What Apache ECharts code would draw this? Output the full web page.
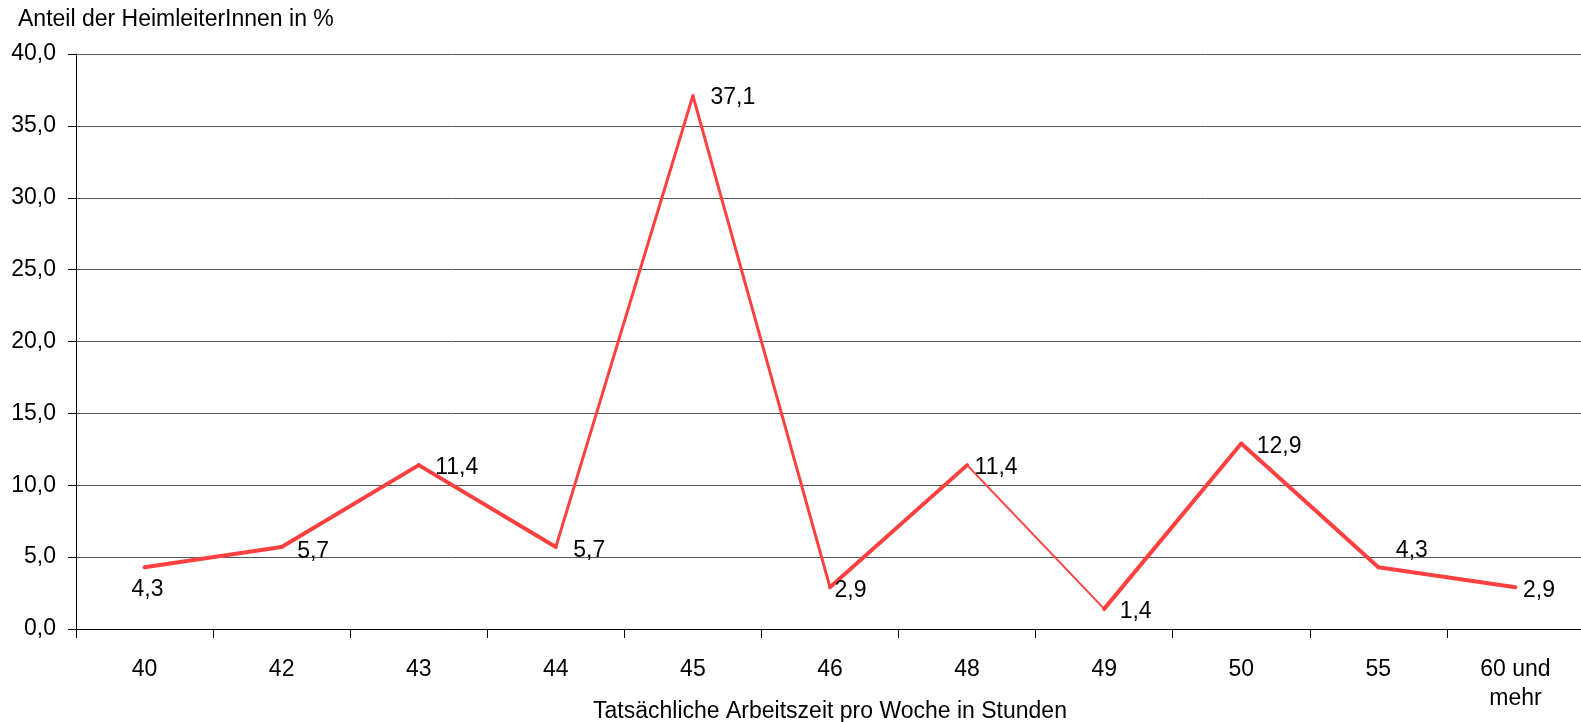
<!DOCTYPE html>
<html>
<head>
<meta charset="utf-8">
<script src="https://cdn.jsdelivr.net/npm/echarts@6/dist/echarts.min.js"></script>
<style>html,body{margin:0;padding:0;background:#fff}#c{width:1581px;height:722px}</style>
</head>
<body>
<div id="c"></div>
<script>
const categories = ['40', '42', '43', '44', '45', '46', '48', '49', '50', '55', '60 und\nmehr'];
const values = [4.3, 5.7, 11.4, 5.7, 37.1, 2.9, 11.4, 1.4, 12.9, 4.3, 2.9];
const yTicks = { min: 0, max: 40, interval: 5 };
const yTitle = 'Anteil der HeimleiterInnen in %';
const xTitle = 'Tatsächliche Arbeitszeit pro Woche in Stunden';

const FONT = '"Liberation Sans", Arial, sans-serif';
const FS = 23;
const RED = '#FF4040';
const fmt = v => v.toFixed(1).replace('.', ',');

// styling: per-segment stroke widths (as rendered in the original), per-label placement
const segWidths = [4, 4, 4, 3, 3, 4, 2, 4, 4, 4];
const labelPlace = [
  ['bottom', [3, 5]], ['right', [10, 5]], ['right', [11, 3]], ['right', [12, 4]],
  ['right', [12, 2]], ['right', [-1, 3]], ['right', [2, 3]], ['right', [10, 3]],
  ['right', [10, 3]], ['right', [12, -17]], ['right', [2, 3]]
];

const segSeries = [];
for (let i = 0; i < values.length - 1; i++) {
  segSeries.push({
    type: 'line',
    data: values.map((v, j) => (j === i || j === i + 1) ? v : null),
    symbol: 'none',
    connectNulls: false,
    lineStyle: { color: RED, width: segWidths[i], cap: 'round', join: 'round' },
    itemStyle: { color: RED },
    silent: true,
    z: 2
  });
}

const labelData = values.map((v, i) => ({
  value: v,
  label: { position: labelPlace[i][0] }
}));

const chart = echarts.init(document.getElementById('c'), null, { renderer: 'canvas' });
chart.setOption({
  animation: false,
  backgroundColor: '#fff',
  textStyle: { fontFamily: FONT },
  graphic: [
    { type: 'text', left: 18, top: 8, style: { text: yTitle, font: FS + 'px ' + FONT, fill: '#000' } }
  ],
  grid: { left: 76, top: 54, width: 1508, height: 575, containLabel: false, outerBoundsMode: 'none' },
  xAxis: {
    type: 'category',
    data: categories,
    boundaryGap: true,
    name: xTitle,
    nameLocation: 'middle',
    nameGap: 71,
    nameMoveOverlap: false,
    nameTextStyle: { fontSize: FS, color: '#000', fontFamily: FONT },
    axisLine: { lineStyle: { color: '#000', width: 1 } },
    axisTick: { show: true, length: 9, lineStyle: { color: '#000' } },
    axisLabel: { color: '#000', fontSize: FS, fontFamily: FONT, margin: 26, lineHeight: 29, interval: 0 },
    splitLine: { show: false }
  },
  yAxis: {
    type: 'value',
    min: yTicks.min, max: yTicks.max, interval: yTicks.interval,
    axisLine: { show: true, lineStyle: { color: '#000', width: 1 } },
    axisTick: { show: true, length: 8, lineStyle: { color: '#000' } },
    axisLabel: { color: '#000', fontSize: FS, fontFamily: FONT, margin: 20, formatter: v => fmt(v) },
    splitLine: { show: true, lineStyle: { color: '#555', width: 1 } }
  },
  series: segSeries.concat([{
    type: 'scatter',
    data: labelData,
    symbolSize: 1,
    itemStyle: { color: RED, opacity: 1 },
    z: 3,
    labelLayout: p => ({ dx: labelPlace[p.dataIndex][1][0], dy: labelPlace[p.dataIndex][1][1], hideOverlap: false }),
    label: { show: true, color: '#000', opacity: 1, fontSize: FS, fontFamily: FONT, formatter: p => fmt(p.value) }
  }])
});
</script>
</body>
</html>
